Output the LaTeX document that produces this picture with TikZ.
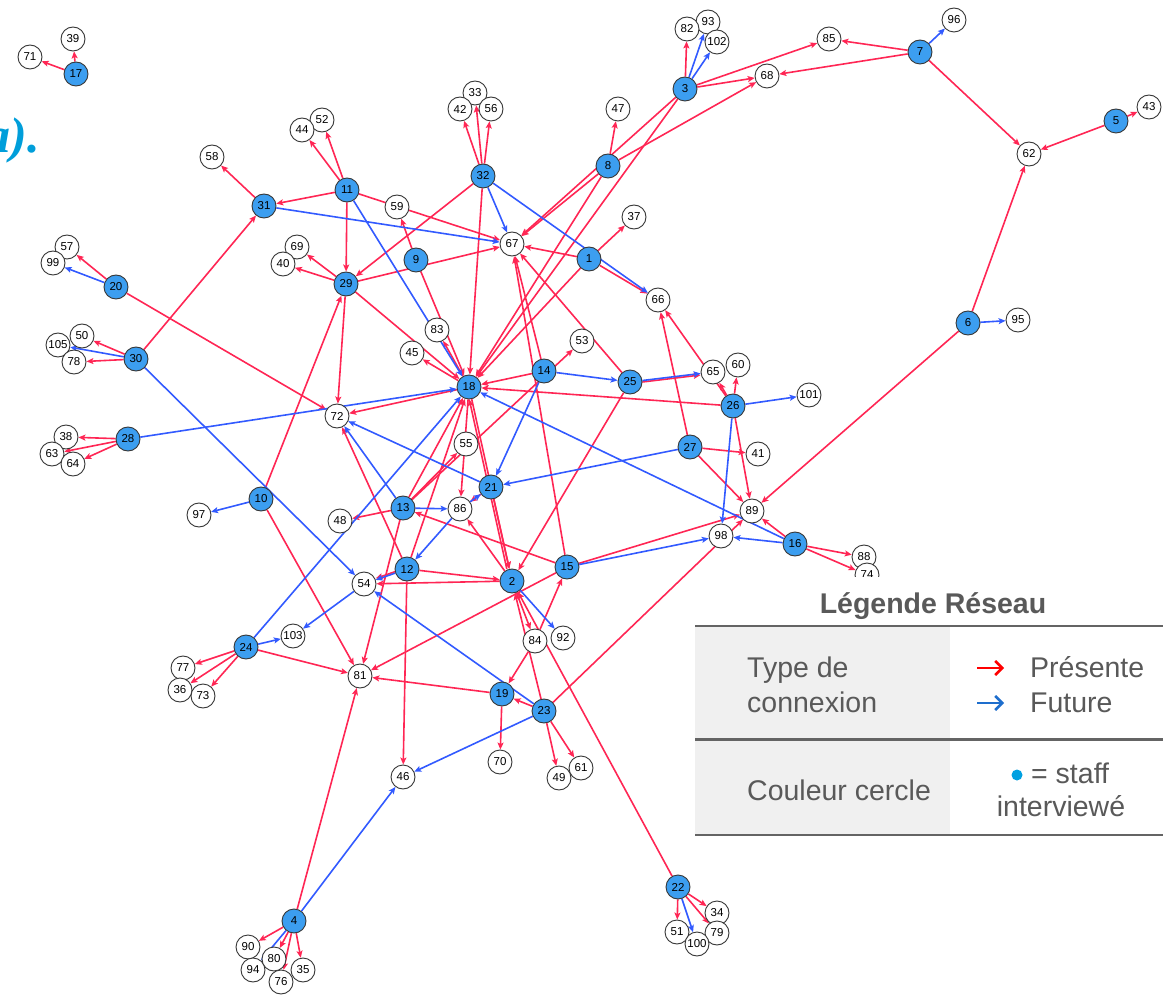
\documentclass[tikz,border=0pt]{standalone}
\usepackage{fontspec}
\setmainfont{Liberation Sans}
\newfontfamily\titleserif{Liberation Serif}
\usetikzlibrary{arrows.meta,backgrounds}

\definecolor{staffblue}{RGB}{60,158,240}
\definecolor{nodeborder}{RGB}{55,55,55}
\definecolor{presred}{RGB}{255,38,84}
\definecolor{futblue}{RGB}{50,90,255}
\definecolor{legtextgray}{RGB}{89,89,89}
\definecolor{leggray}{RGB}{240,240,240}
\definecolor{rulegray}{RGB}{100,100,100}
\definecolor{legred}{RGB}{255,0,0}
\definecolor{legblue}{RGB}{30,110,205}
\definecolor{dotblue}{RGB}{0,160,225}
\definecolor{titleblue}{RGB}{0,158,218}

\tikzset{
  netnode/.style={circle, draw=nodeborder, line width=0.9pt, minimum size=24pt,
    inner sep=0pt, font=\fontsize{11.5}{11.5}\selectfont, text=black},
  staff/.style={netnode, fill=staffblue},
  contact/.style={netnode, fill=white},
  tipstyle/.style={-{Stealth[length=7pt,width=6pt,inset=1.5pt]}},
  present/.style={draw=presred, line width=1.6pt, tipstyle},
  future/.style={draw=futblue, line width=1.6pt, tipstyle},
  legtext/.style={font=\fontsize{28.5}{34}\selectfont, text=legtextgray, inner sep=0pt},
  legtitle/.style={font=\fontsize{28.5}{34}\selectfont\bfseries, text=legtextgray, inner sep=0pt},
  legrule/.style={draw=rulegray, line width=2.5pt},
  legarrow/.style={line width=2.6pt, -{Straight Barb[length=7pt,width=14pt]}}
}

\begin{document}
\begin{tikzpicture}[x=1pt,y=-1pt]
\useasboundingbox (0,0) rectangle (1163,995);

% slide heading fragment
\node[font=\titleserif\bfseries\itshape\fontsize{50}{50}\selectfont, text=titleblue,
      anchor=base east, inner sep=0pt] (heading) at (40,153) {a).};

% contacts (white circles)
\foreach \n/\x/\y in {39/73/39, 71/30/57, 93/708/22, 82/687/29, 102/717/42,
  85/829/39, 96/954/20, 68/767/76, 43/1149/107, 47/618/109, 33/475/93,
  42/460/109, 56/491/109, 52/322/120, 44/302/130, 58/212/157, 62/1029/154,
  59/397/207, 37/634/217, 67/512/244, 57/67/247, 99/53/263, 69/297/247,
  40/283/264, 66/658/300, 95/1018/320, 50/82/336, 105/58/345, 78/74/362,
  83/437/330, 53/582/341, 45/412/353, 60/738/365, 65/713/372, 101/809/395,
  72/337/416, 38/66/437, 63/52/454, 64/73/464, 55/466/444, 41/758/454,
  89/752/511, 97/199/515, 48/340/521, 86/460/509, 98/721/536, 88/864/557,
  74/867/575, 54/364/584, 103/293/636, 84/535/641, 92/563/638, 77/183/668,
  36/180/690, 73/203/696, 81/360/676, 70/500/762, 46/403/777, 61/581/768,
  49/559/778, 34/717/913, 51/677/932, 79/717/933, 100/697/944, 90/248/947,
  94/253/970, 35/303/970, 80/274/959, 76/281/982}
  \node[contact] (n\n) at (\x,\y) {\n};

% interviewed staff (blue circles)
\foreach \n/\x/\y in {17/76/74, 3/685/89, 7/920/52, 5/1116/121, 8/608/166,
  32/483/176, 11/347/190, 31/264/206, 9/416/260, 1/589/259, 29/346/284,
  20/116/287, 30/136/359, 6/968/323, 14/544/371, 18/469/387, 25/630/382,
  26/733/406, 28/128/439, 27/690/447, 21/491/487, 10/261/499, 13/403/508,
  16/795/544, 15/567/567, 12/407/569, 2/512/581, 24/246/647, 19/502/694,
  23/544/711, 22/678/887, 4/294/921}
  \node[staff] (n\n) at (\x,\y) {\n};

\begin{pgfonlayer}{background}
% present connections
\foreach \a/\b in {17/71, 17/39,
  3/82, 3/68, 3/85, 3/67, 3/18,
  7/85, 7/68, 7/62, 5/62, 5/43, 6/62, 6/89,
  8/47, 8/68, 8/67, 8/18,
  32/42, 32/33, 32/56, 32/29, 32/18,
  11/44, 11/52, 11/31, 11/29, 11/67,
  31/58, 9/59, 9/18,
  1/67, 1/37, 1/66, 1/18,
  29/69, 29/40, 29/72, 29/18, 29/67,
  10/29, 10/81, 20/57, 20/72,
  30/50, 30/78, 30/31, 28/38, 28/63, 28/64,
  14/18, 14/67,
  15/67, 15/13, 15/81, 15/89,
  25/67, 25/2,
  26/65, 26/60, 26/18, 26/89, 26/66,
  27/66, 27/41, 27/89,
  16/89, 16/88, 16/74,
  18/45, 18/72, 18/86, 18/2, 18/83,
  2/86, 2/54, 2/84,
  21/86, 21/2,
  13/48, 13/18, 13/55, 13/53, 13/81,
  12/2, 12/18, 12/72, 12/46,
  84/19, 84/15, 19/81, 19/70,
  23/19, 23/2, 23/49, 23/61, 23/89,
  22/2, 22/51, 22/34, 22/79,
  24/77, 24/36, 24/73, 24/81,
  4/81, 4/90, 4/80, 4/76, 4/35}
  \draw[present] (n\a) -- (n\b);
% links that run both ways or carry both types
\draw[present, transform canvas={xshift=-2.5pt}] (n2) -- (n18);
\draw[present, transform canvas={yshift=-1.5pt}] (n25) -- (n65);
\draw[present, transform canvas={yshift=1.5pt}] (n12) -- (n54);
% future connections
\foreach \a/\b in {3/93, 3/102, 7/96, 6/95, 32/67, 32/66, 31/67, 11/18,
  20/99, 30/105, 30/54, 28/18, 10/97, 14/21, 14/25, 25/65, 26/101, 26/98,
  27/21, 16/98, 16/18, 15/98, 13/86, 13/72, 86/21, 86/12, 21/72, 2/92,
  12/54, 54/103, 24/103, 24/18, 23/54, 23/46, 22/100, 4/46, 4/94}
  \draw[future] (n\a) -- (n\b);
\end{pgfonlayer}

% legend
\fill[white] (742,577) rectangle (1163,842);
\fill[leggray] (695,627) rectangle (950,835);
\node[legtitle, anchor=base] (legtitle) at (933,613) {Légende Réseau};
\draw[legrule] (695,626) -- (1163,626);
\draw[legrule] (695,739.5) -- (1163,739.5);
\draw[legrule] (695,835) -- (1163,835);

\node[legtext, anchor=base west] (typeA) at (747,677) {Type de};
\node[legtext, anchor=base west] (typeB) at (747,712) {connexion};
\coordinate (redA) at (977,668);
\coordinate (redB) at (1004,668);
\coordinate (blueA) at (977,703);
\coordinate (blueB) at (1004,703);
\draw[legarrow, legred] (redA) -- (redB);
\draw[legarrow, legblue] (blueA) -- (blueB);
\node[legtext, anchor=base west] (presLbl) at (1030,677) {Présente};
\node[legtext, anchor=base west] (futLbl) at (1030,712) {Future};

\node[legtext, anchor=base west] (colLbl) at (747,800) {Couleur cercle};
\node[circle, fill=dotblue, minimum size=11pt, inner sep=0pt] (staffdot) at (1017,775) {};
\node[legtext, anchor=base west] (staffA) at (1031,783) {= staff};
\node[legtext, anchor=base] (staffB) at (1061,816) {interviewé};
\end{tikzpicture}
\end{document}
